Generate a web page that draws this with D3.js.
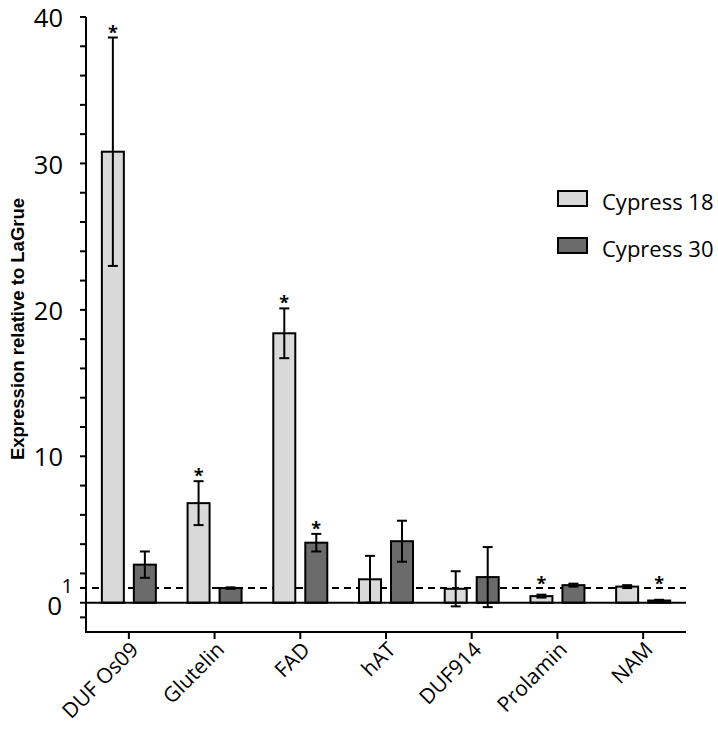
<!DOCTYPE html>
<html>
<head>
<meta charset="utf-8">
<script src="https://cdn.jsdelivr.net/npm/d3@7"></script>
<style>
  html, body { margin: 0; padding: 0; background: #fff; }
  svg { display: block; }
</style>
</head>
<body>
<svg id="chart" width="718" height="736"></svg>
<script>
// Genes and the two lines compared against LaGrue
const genes = ["DUF Os09", "Glutelin", "FAD", "hAT", "DUF914", "Prolamin", "NAM"];
const series = ["Cypress 18", "Cypress 30"];

// Mean relative expression and error (same order as genes)
const cypress18 = [30.8, 6.8, 18.4, 1.6, 0.95, 0.45, 1.1];
const cypress18Err = [7.8, 1.5, 1.7, 1.6, 1.2, 0.1, 0.1];
const cypress30 = [2.6, 1.0, 4.1, 4.2, 1.75, 1.2, 0.15];
const cypress30Err = [0.9, 0.05, 0.6, 1.4, 2.05, 0.1, 0.05];

// Significance marks (1 = marked)
const sig18 = [1, 1, 1, 0, 0, 1, 0];
const sig30 = [0, 0, 1, 0, 0, 0, 1];

const yMajor = [10, 20, 30, 40];
const yMinor = [-1, 2, 4, 6, 8, 12, 14, 16, 18, 22, 24, 26, 28, 32, 34, 36, 38];

const fills = { "Cypress 18": "#d9d9d9", "Cypress 30": "#6b6b6b" };

const rows = genes.map((g, i) => ({
  gene: g,
  values: [
    { s: series[0], v: cypress18[i], e: cypress18Err[i], sig: sig18[i] },
    { s: series[1], v: cypress30[i], e: cypress30Err[i], sig: sig30[i] }
  ]
}));

const svg = d3.select("#chart");
const plotLeft = 86, plotRight = 686, plotTop = 17, plotBottom = 632;

const y = d3.scaleLinear().domain([-2, 40]).range([plotBottom, plotTop]);
const x0 = d3.scaleBand().domain(genes).range([plotLeft, plotRight]);
const bw = x0.bandwidth();
const x1 = d3.scaleBand().domain(series).range([bw / 2 - 27, bw / 2 + 27]).paddingInner(0.3125);

const font = "'Open Sans', sans-serif";

// Reference line at 1 (drawn under the bars)
svg.append("line")
  .attr("x1", plotLeft - 6).attr("x2", plotRight)
  .attr("y1", y(1)).attr("y2", y(1))
  .attr("stroke", "#000").attr("stroke-width", 2)
  .attr("stroke-dasharray", "7,5");

// Bars
const groups = svg.selectAll("g.gene").data(rows).join("g")
  .attr("class", "gene")
  .attr("transform", d => `translate(${x0(d.gene)},0)`);

groups.selectAll("rect").data(d => d.values).join("rect")
  .attr("x", d => x1(d.s))
  .attr("width", x1.bandwidth())
  .attr("y", d => y(d.v))
  .attr("height", d => y(0) - y(d.v))
  .attr("fill", d => fills[d.s])
  .attr("stroke", "#000").attr("stroke-width", 2);

// Error bars
const capHalf = 5;
const eb = groups.selectAll("g.err").data(d => d.values).join("g").attr("class", "err");
eb.append("line")
  .attr("x1", d => x1(d.s) + x1.bandwidth() / 2)
  .attr("x2", d => x1(d.s) + x1.bandwidth() / 2)
  .attr("y1", d => y(d.v + d.e)).attr("y2", d => y(d.v - d.e))
  .attr("stroke", "#000").attr("stroke-width", 2);
eb.append("line")
  .attr("x1", d => x1(d.s) + x1.bandwidth() / 2 - capHalf)
  .attr("x2", d => x1(d.s) + x1.bandwidth() / 2 + capHalf)
  .attr("y1", d => y(d.v + d.e)).attr("y2", d => y(d.v + d.e))
  .attr("stroke", "#000").attr("stroke-width", 2);
eb.append("line")
  .attr("x1", d => x1(d.s) + x1.bandwidth() / 2 - capHalf)
  .attr("x2", d => x1(d.s) + x1.bandwidth() / 2 + capHalf)
  .attr("y1", d => y(d.v - d.e)).attr("y2", d => y(d.v - d.e))
  .attr("stroke", "#000").attr("stroke-width", 2);

// Significance asterisks
eb.filter(d => d.sig).append("text")
  .attr("x", d => x1(d.s) + x1.bandwidth() / 2)
  .attr("y", d => Math.min(y(d.v + d.e) - 9, y(1.55)) + 10)
  .attr("text-anchor", "middle")
  .attr("font-family", font).attr("font-size", 18).attr("font-weight", "bold")
  .attr("fill", "#000")
  .text("*");

// Zero line
svg.append("line")
  .attr("x1", plotLeft - 6).attr("x2", plotRight)
  .attr("y1", y(0)).attr("y2", y(0))
  .attr("stroke", "#000").attr("stroke-width", 2);

// Y axis
const yAxis = svg.append("g").attr("transform", `translate(${plotLeft},0)`);
yAxis.append("line")
  .attr("x1", 0).attr("x2", 0).attr("y1", plotTop).attr("y2", plotBottom + 1)
  .attr("stroke", "#000").attr("stroke-width", 2);
yAxis.selectAll("line.tick").data(yMajor.concat(yMinor)).join("line")
  .attr("class", "tick")
  .attr("x1", -6).attr("x2", 0)
  .attr("y1", d => y(d)).attr("y2", d => y(d))
  .attr("stroke", "#000").attr("stroke-width", 2);
yAxis.selectAll("text.lab").data(yMajor).join("text")
  .attr("class", "lab")
  .attr("x", -23).attr("y", d => y(d))
  .attr("dy", "0.4em")
  .attr("text-anchor", "end")
  .attr("font-family", font).attr("font-size", 25.5)
  .attr("fill", "#000")
  .text(d => d);
yAxis.append("text")
  .attr("x", -24).attr("y", y(0) + 3).attr("dy", "0.36em")
  .attr("text-anchor", "end")
  .attr("font-family", font).attr("font-size", 26)
  .text("0");
yAxis.append("text")
  .attr("x", -13).attr("y", y(1) - 2).attr("dy", "0.36em")
  .attr("text-anchor", "end")
  .attr("font-family", font).attr("font-size", 20)
  .text("1");

svg.append("text")
  .attr("transform", "translate(24,329) rotate(-90)")
  .attr("text-anchor", "middle")
  .attr("font-family", "'Liberation Sans', Arial, sans-serif")
  .attr("font-weight", "bold").attr("font-size", 18.5)
  .text("Expression relative to LaGrue");

// X axis at the bottom
const xAxis = svg.append("g").attr("transform", `translate(0,${plotBottom})`);
xAxis.append("line")
  .attr("x1", plotLeft - 1).attr("x2", plotRight).attr("y1", 0).attr("y2", 0)
  .attr("stroke", "#000").attr("stroke-width", 2);
xAxis.selectAll("line.tick").data(genes).join("line")
  .attr("class", "tick")
  .attr("x1", d => x0(d) + bw / 2).attr("x2", d => x0(d) + bw / 2)
  .attr("y1", 0).attr("y2", 7)
  .attr("stroke", "#000").attr("stroke-width", 2);
xAxis.selectAll("text").data(genes).join("text")
  .attr("transform", d => `translate(${x0(d) + bw / 2 + 11},${19}) rotate(-45)`)
  .attr("text-anchor", "end")
  .attr("font-family", font).attr("font-size", 21)
  .attr("fill", "#000")
  .text(d => d);

// Legend
const legend = svg.append("g");
series.forEach((s, i) => {
  const ly = 191 + i * 47;
  legend.append("rect")
    .attr("x", 558).attr("y", ly).attr("width", 29).attr("height", 15)
    .attr("fill", fills[s]).attr("stroke", "#000").attr("stroke-width", 2);
  legend.append("text")
    .attr("x", 602).attr("y", ly + 11).attr("dy", "0.35em")
    .attr("font-family", font).attr("font-size", 22)
    .attr("fill", "#000")
    .text(s);
});
</script>
</body>
</html>
